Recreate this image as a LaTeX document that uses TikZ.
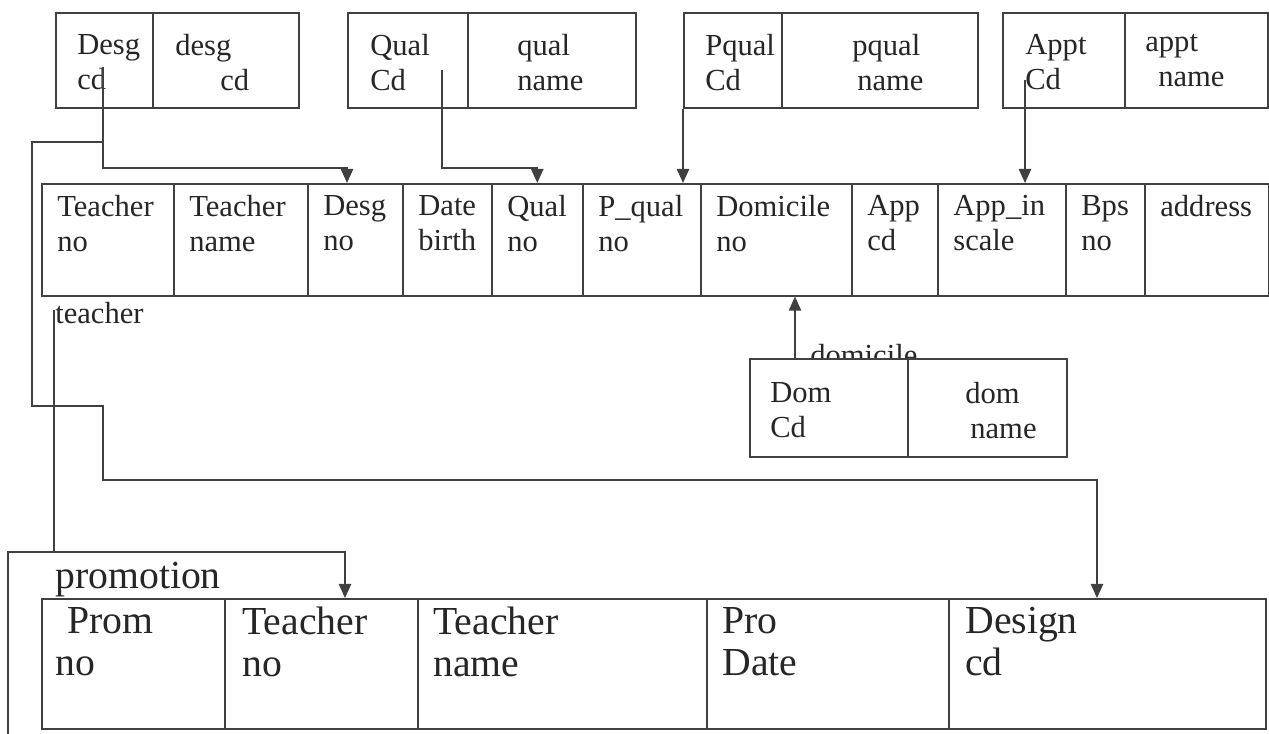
\documentclass[tikz,border=0pt]{standalone}
\usepackage{fontspec}
\setmainfont{Liberation Serif}
\usetikzlibrary{arrows.meta}
\tikzset{
    box/.style={draw=black!75, line width=0.9pt, anchor=north west, inner sep=0pt, fill=white},
    txt/.style={anchor=north west, inner sep=0pt, align=left, text=black!85, font=\fontsize{17.4}{19.9}\selectfont},
    bigtxt/.style={txt, font=\fontsize{22.6}{23.9}\selectfont},
    wire/.style={draw=black!75, line width=0.9pt},
    link/.style={wire, -{Triangle[width=7pt,length=8pt]}}
}
\begin{document}
\begin{tikzpicture}[x=0.02cm,y=-0.02cm]
    \useasboundingbox (0,0) rectangle (1269,734);
    \foreach \n/\a/\b/\s/\t in {dcd/55/152/22/{Desg\\cd}, dnm/152/298/23/{desg\\\hspace*{0.9cm}cd},
        qcd/347/467/23/{Qual\\Cd}, qnm/467/635/50/{qual\\name},
        pqc/683/781/22/{Pqual\\Cd}, pqn/781/977/71/{pqual\\\hspace*{0.1cm}name},
        acd/1002/1124/23/{Appt\\Cd}, anm/1124/1267/21/{appt\\\hspace*{0.26cm}name}}{
        \node[box, minimum width={(\b-\a)*0.02cm}, minimum height=1.9cm] (\n) at (\a,12) {};
        \node[txt] (\n-t) at ([shift={(\s,22)}]\n.north west) {\t};
    }
    \foreach \n/\a/\b/\t in {tno/41/173/{Teacher\\no}, tnm/173/307/{Teacher\\name},
        tdg/307/402/{Desg\\no}, tdb/402/491/{Date\\birth}, tql/491/582/{Qual\\no},
        tpq/582/700/{P\_qual\\no}, tdm/700/851/{Domicile\\no}, tap/851/937/{App\\cd},
        tai/937/1065/{App\_in\\scale}, tbp/1065/1144/{Bps\\no}, tad/1144/1268/{address}}{
        \node[box, minimum width={(\b-\a)*0.02cm}, minimum height=2.24cm] (\n) at (\a,183) {};
        \node[txt] (\n-t) at ([shift={(16,12)}]\n.north west) {\t};
    }
    \node[txt, anchor=base west] (lteacher) at (55,323) {teacher};
    \node[txt, anchor=base west] (ldomicile) at (810,365) {domicile};
    \foreach \n/\a/\b/\s/\t in {dmc/749/907/21/{Dom\\Cd}, dmn/907/1066/58/{dom\\\hspace*{0.1cm}name}}{
        \node[box, minimum width={(\b-\a)*0.02cm}, minimum height=1.96cm] (\n) at (\a,358) {};
        \node[txt] (\n-t) at ([shift={(\s,24)}]\n.north west) {\t};
    }
    \node[bigtxt, anchor=base west] (lpromotion) at (55,588) {promotion};
    \foreach \n/\a/\b/\s/\t in {prno/41/224/14/{\hspace*{0.24cm}Prom\\no}, prte/224/417/18/{Teacher\\no},
        prtn/417/706/16/{Teacher\\name}, prpd/706/948/16/{Pro\\Date}, prds/948/1265/17/{Design\\cd}}{
        \node[box, minimum width={(\b-\a)*0.02cm}, minimum height=2.6cm] (\n) at (\a,598) {};
        \node[bigtxt] (\n-t) at ([shift={(\s,9)}]\n.north west) {\t};
    }
    \coordinate (dsrc) at (103,67);
    \coordinate (dbr) at (103,142);
    \coordinate (qsrc) at (442,70);
    \coordinate (asrc) at (1025,80);
    \coordinate (tsrc) at (54,310);
    \coordinate (pend) at (8,734);
    \draw[link] (dsrc) -- ++(0,101) -| ([shift={(40,0)}]tdg.north west);
    \draw[link] (dbr) -- ++(-71,0) |- ++(71,264) -- ++(0,74) -| ([shift={(149,0)}]prds.north west);
    \draw[link] (qsrc) -- ++(0,98) -| (tql.north);
    \draw[link] (pqc.south west) -- (pqc.south west |- tpq.north);
    \draw[link] (asrc) -- (asrc |- tai.north);
    \draw[link] ([shift={(46,0)}]dmc.north west) -- ([shift={(95,0)}]tdm.south west);
    \draw[wire] (tsrc) -- ++(0,242);
    \draw[link] (pend) -- ++(0,-182) -| ([shift={(121,0)}]prte.north west);
\end{tikzpicture}
\end{document}
